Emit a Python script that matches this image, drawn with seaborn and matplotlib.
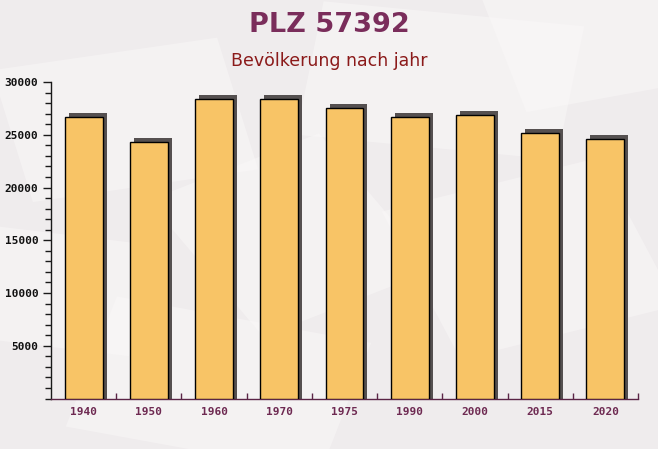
import numpy as np
import pandas as pd
import matplotlib
matplotlib.use("Agg")
import matplotlib.pyplot as plt
import matplotlib.transforms as mtransforms
from matplotlib.patches import Rectangle
from matplotlib.ticker import MultipleLocator
import seaborn as sns

# ---- data ----
years = ["1940", "1950", "1960", "1970", "1975", "1990", "2000", "2015", "2020"]
population = [26700, 24300, 28400, 28400, 27500, 26700, 26900, 25200, 24600]
ytick_values = [5000, 10000, 15000, 20000, 25000, 30000]
title_text = "PLZ 57392"
subtitle_text = "Bevölkerung nach jahr"

sns.set_theme(style="white")
plt.rcParams['font.family'] = ['DejaVu Sans']

W, H = 658, 449
fig = plt.figure(figsize=(W / 100, H / 100), dpi=100)
fig.patch.set_facecolor('#EFECED')

# faint envelope-like background decoration, in a background axes
bg = fig.add_axes([0, 0, 1, 1], zorder=-10)
bg.set_xlim(0, 1)
bg.set_ylim(0, 1)
bg.axis("off")
deco = [
    (0.05, 0.55, 0.35, 0.30, 12), (0.45, 0.70, 0.40, 0.30, -8),
    (0.70, 0.20, 0.35, 0.35, 20), (0.10, 0.05, 0.40, 0.30, -15),
    (0.40, 0.25, 0.30, 0.35, 30), (0.80, 0.75, 0.30, 0.30, 15),
    (-0.05, 0.25, 0.25, 0.25, -10),
]
for (x, y, w, h, a) in deco:
    bg.add_patch(Rectangle((x, y), w, h, angle=a, facecolor='#FAF8F8',
                           alpha=0.5, edgecolor='none'))

ax = fig.add_axes([51 / W, 1 - 398.5 / H, 587 / W, (398.5 - 82) / H], zorder=1)
ax.set_facecolor('none')

df = pd.DataFrame({"year": years, "population": population})

# shadow bars (3D side)
sns.barplot(data=df, x="year", y="population", color="#555050", saturation=1,
            width=0.58, ax=ax, edgecolor='none', linewidth=0)
shadow = list(ax.patches)
offset = mtransforms.ScaledTranslation(4 / 100, 4 / 100, fig.dpi_scale_trans)
for p in shadow:
    p.set_y(-600)
    p.set_height(p.get_height() + 600)
    p.set_transform(ax.transData + offset)
    p.set_zorder(2)

# front bars
sns.barplot(data=df, x="year", y="population", color="#F8C466", saturation=1,
            width=0.58, ax=ax, edgecolor='black', linewidth=1.0)
for p in ax.patches[len(shadow):]:
    p.set_zorder(3)

ax.set_xlim(-0.5, len(years) - 0.5)
ax.set_ylim(0, 30000)
ax.set_xlabel("")
ax.set_ylabel("")

for s in ["top", "right"]:
    ax.spines[s].set_visible(False)
ax.spines["left"].set_color("#1a1a1a")
ax.spines["bottom"].set_color("#5A2445")
ax.spines["left"].set_linewidth(1.0)
ax.spines["bottom"].set_linewidth(1.0)

ax.set_yticks(ytick_values)
ax.set_yticklabels([str(v) for v in ytick_values], fontfamily="DejaVu Sans Mono",
                   fontweight="bold", fontsize=8, color="#111111")
ax.yaxis.set_minor_locator(MultipleLocator(1000))
ax.tick_params(axis="y", which="major", length=6, width=1, color="#1a1a1a", pad=3, left=True)
ax.tick_params(axis="y", which="minor", length=4, width=1, color="#1a1a1a", left=True)

ax.set_xticks(range(len(years)))
ax.set_xticklabels(years, fontfamily="DejaVu Sans Mono", fontweight="bold",
                   fontsize=8, color="#6E2A52")
ax.set_xticks(np.arange(0.5, len(years), 1.0), minor=True)
ax.tick_params(axis="x", which="major", length=0, pad=6)
ax.tick_params(axis="x", which="minor", direction="in", length=4, width=1,
               color="#5A2445", bottom=True)

fig.text(0.5, 1 - 25 / H, title_text, ha="center", va="center", fontsize=19.5,
         fontweight="bold", color="#7A2D5B")
fig.text(0.5, 1 - 61 / H, subtitle_text, ha="center", va="center", fontsize=12.5,
         color="#8B1A1A")

fig.savefig("out.png", dpi=100, facecolor=fig.get_facecolor())
